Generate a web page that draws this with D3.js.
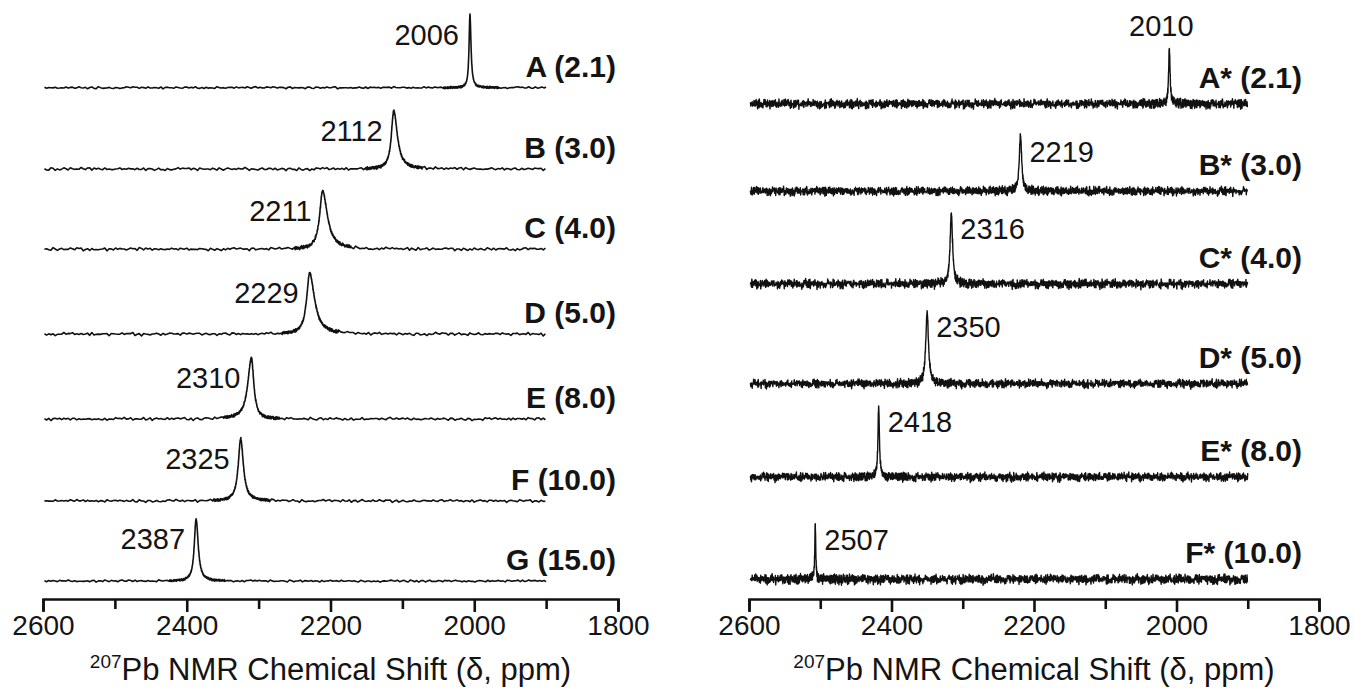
<!DOCTYPE html>
<html>
<head>
<meta charset="utf-8">
<script src="https://cdn.jsdelivr.net/npm/d3@7"></script>
<style>
  body { margin: 0; background: #fff; }
  svg { display: block; }
  text { font-family: Arial, "Liberation Sans", sans-serif; fill: #141414; }
</style>
</head>
<body>
<svg id="chart" width="1355" height="689"></svg>
<script>
// ---- left panel: 207Pb spectra (ratio in brackets) ----
const leftNames = ["A (2.1)", "B (3.0)", "C (4.0)", "D (5.0)", "E (8.0)", "F (10.0)", "G (15.0)"];
const leftPeaks = [2006, 2112, 2211, 2229, 2310, 2325, 2387];
const leftHwhmHigh = [1.5, 4, 5, 5, 6, 4, 3];     // ppm, half width on the high-ppm side
const leftHwhmLow = [1.8, 6, 8, 8, 4, 4.5, 3.5];   // ppm, half width on the low-ppm side
const leftHeights = [1.22, 0.97, 0.97, 1.02, 1.02, 1.04, 1.04];
const leftOffsets = [8.55, 7.19, 5.85, 4.43, 3.01, 1.64, 0.30];
const leftNoise = [0.02, 0.028, 0.03, 0.03, 0.028, 0.025, 0.02];

// ---- right panel ----
const rightNames = ["A* (2.1)", "B* (3.0)", "C* (4.0)", "D* (5.0)", "E* (8.0)", "F* (10.0)"];
const rightPeaks = [2010, 2219, 2316, 2350, 2418, 2507];
const rightHwhm = [1.2, 2, 2, 2.2, 1.2, 0.8];
const rightHeights = [0.94, 0.92, 1.19, 1.22, 1.19, 0.92];
const rightOffsets = [8.28, 6.82, 5.27, 3.60, 2.04, 0.33];
const rightNoise = [0.09, 0.085, 0.09, 0.085, 0.085, 0.095];

const tickValues = [2600, 2500, 2400, 2300, 2200, 2100, 2000, 1900, 1800];
const tickLabels = ["2600", "", "2400", "", "2200", "", "2000", "", "1800"];
const spectrumRange = [2598, 1900];

// hand-typed jitter table used for the baseline noise
const noiseTable = [0.3, -0.8, 0.5, 0.1, -0.4, 0.9, -0.2, -0.7, 0.6, -0.1, 0.4, -0.9, 0.2, 0.8, -0.5, -0.3,
  0.7, 0.0, -0.6, 0.5, -1.0, 0.3, 0.6, -0.2, -0.8, 0.9, 0.1, -0.4, 0.2, -0.7, 0.8, -0.1, -0.5, 0.4, 0.6,
  -0.9, 0.3, -0.3, 0.7, 0.0, -0.6, 0.9, -0.2, 0.5, -0.8, 0.1, 0.4, -0.4, 0.8, -0.7, 0.2, -0.1, 0.6, -0.5,
  0.3, -0.9, 0.7, 0.1, -0.3, 0.5, -0.6, 0.9, -0.2, 0.0, -0.8, 0.4, 0.6, -0.4, 0.2, -1.0, 0.8, 0.1, -0.5,
  0.3, -0.2, 0.7, -0.7, 0.5, 0.0, -0.3, 0.9, -0.6, 0.2, 0.4, -0.9, 0.6, -0.1, 0.3, -0.5, 0.8, -0.4, 0.1,
  0.7, -0.8, 0.5, -0.2, -0.6, 0.4, 0.9, -0.3, 0.0];

const svg = d3.select("#chart");
const axisY = 599;
const y = d3.scaleLinear().domain([0, 10]).range([axisY, axisY - 598]);

const panels = [
  { x0: 43, x1: 618, names: leftNames, peaks: leftPeaks, hi: leftHwhmHigh, lo: leftHwhmLow,
    heights: leftHeights, offsets: leftOffsets, noise: leftNoise, step: 3, stroke: 1.6, side: "left" },
  { x0: 749, x1: 1319, names: rightNames, peaks: rightPeaks, hi: rightHwhm, lo: rightHwhm,
    heights: rightHeights, offsets: rightOffsets, noise: rightNoise, step: 0.5, stroke: 1.4, side: "right" }
];

function buildSpectrum(p, i) {
  const c = p.peaks[i];
  const L = noiseTable.length;
  const pts = [];
  let j = 0;
  for (let v = spectrumRange[0]; v >= spectrumRange[1]; ) {
    const d = v - c;
    const w = d > 0 ? p.hi[i] : p.lo[i];
    const n = 0.6 * noiseTable[(j + i * 13) % L] + 0.5 * noiseTable[(j * 3 + Math.floor(j / L) * 7 + i * 29) % L];
    const val = p.offsets[i] + p.heights[i] / (1 + (d / w) * (d / w)) + p.noise[i] * n;
    pts.push([v, val]);
    j++;
    v -= Math.abs(d) < 40 ? 0.25 : p.step;
  }
  return pts;
}

panels.forEach(p => {
  const x = d3.scaleLinear().domain([2600, 1800]).range([p.x0, p.x1]);
  const g = svg.append("g");

  const line = d3.line().x(d => x(d[0])).y(d => y(d[1]));

  p.names.forEach((name, i) => {
    const pts = buildSpectrum(p, i);
    g.append("path")
      .attr("d", line(pts))
      .attr("fill", "none")
      .attr("stroke", "#111")
      .attr("stroke-width", p.stroke)
      .attr("stroke-linejoin", "round");

    const base = y(p.offsets[i]);
    const top = y(p.offsets[i] + p.heights[i]);
    const px = x(p.peaks[i]);

    // sample label
    g.append("text")
      .attr("x", p.side === "left" ? p.x1 - 2 : p.x1 - 17)
      .attr("y", p.side === "left" ? base - 11 : base - 16)
      .attr("text-anchor", "end")
      .attr("font-weight", "bold")
      .attr("font-size", 30)
      .text(name);

    // peak position label
    const t = g.append("text").attr("font-size", 29).text(p.peaks[i]);
    if (p.side === "left") {
      t.attr("x", px - 11).attr("y", top + 30).attr("text-anchor", "end");
    } else if (i === 0) {
      t.attr("x", px - 8).attr("y", top - 12).attr("text-anchor", "middle");
    } else {
      t.attr("x", px + 9).attr("y", top + 26).attr("text-anchor", "start");
    }
  });

  // bottom axis
  const axis = d3.axisBottom(x)
    .tickValues(tickValues)
    .tickFormat((d, k) => tickLabels[k])
    .tickSizeOuter(0)
    .tickSize(12)
    .tickPadding(4);

  const ax = g.append("g").attr("transform", `translate(0,${axisY})`).call(axis);
  ax.select(".domain").attr("stroke", "#111").attr("stroke-width", 2.6);
  ax.selectAll(".tick line").attr("stroke", "#111").attr("stroke-width", 2.6)
    .attr("y2", (d, k) => tickLabels[k] ? 13 : 10);
  ax.selectAll(".tick text").attr("font-size", 28).attr("fill", "#141414")
    .attr("font-family", "Arial, 'Liberation Sans', sans-serif");

  const title = g.append("text")
    .attr("x", (p.x0 + p.x1) / 2)
    .attr("y", 680)
    .attr("text-anchor", "middle")
    .attr("font-size", 31);
  title.append("tspan").attr("font-size", 19).attr("dy", -12).text("207");
  title.append("tspan").attr("dy", 12).text("Pb NMR Chemical Shift (δ, ppm)");
});
</script>
</body>
</html>
